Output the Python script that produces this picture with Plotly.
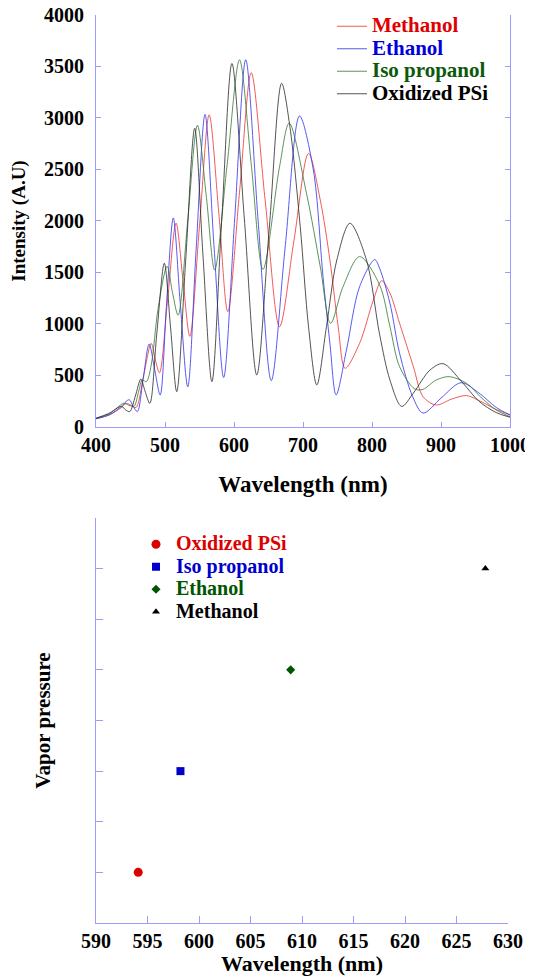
import plotly.graph_objects as go

# ---------------- Data: top chart (PL spectra) ----------------
wl_oxidized = [400, 418, 437, 443, 449, 457, 465, 471, 478, 488, 499, 508, 517, 530, 543, 555, 568, 582, 597, 615,
               633, 651, 669, 681, 696, 708, 720, 734, 749, 768, 792, 811, 826, 843, 860, 884, 903, 930, 955, 980, 1000]
int_oxidized = [85, 130, 200, 165, 150, 300, 465, 350, 230, 900, 1590, 970, 343, 1620, 2900, 1670, 440, 1985, 3530, 2020,
                505, 1920, 3337, 2916, 1945, 974, 408, 974, 1621, 1978, 1621, 900, 456, 200, 330, 553, 615, 440, 250, 140, 95]

wl_ethanol = [400, 420, 435, 448, 454, 460, 468, 477, 485, 493, 502, 512, 522, 533, 545, 558, 571, 585, 601, 617,
              635, 654, 674, 695, 715, 729, 739, 748, 763, 782, 804, 811, 826, 840, 859, 874, 900, 929, 955, 980, 1000]
int_ethanol = [80, 120, 190, 265, 200, 150, 450, 805, 560, 311, 1170, 2030, 1210, 390, 1710, 3035, 1760, 480, 2020, 3565,
               2000, 450, 1735, 3020, 2495, 1460, 812, 311, 748, 1362, 1625, 1541, 1201, 715, 294, 135, 280, 430, 330, 190, 115]

wl_methanol = [400, 420, 436, 444, 451, 458, 469, 480, 486, 492, 504, 516, 526, 536, 550, 564, 578, 591, 608, 625,
               645, 666, 687, 708, 725, 739, 751, 761, 782, 802, 814, 826, 840, 860, 874, 893, 915, 937, 960, 980, 1000]
int_methanol = [80, 120, 185, 230, 210, 190, 500, 812, 650, 527, 1250, 1980, 1430, 880, 1955, 3030, 2075, 1120, 2280, 3440,
                2210, 974, 1815, 2657, 2204, 1621, 974, 570, 812, 1233, 1420, 1300, 1007, 585, 294, 214, 270, 305, 240, 170, 120]

wl_isopropanol = [400, 420, 440, 448, 455, 462, 467, 473, 480, 490, 503, 511, 519, 533, 547, 560, 572, 590, 608, 625,
                  642, 666, 680, 705, 725, 740, 758, 782, 811, 826, 840, 862, 874, 893, 912, 937, 957, 980, 1000]
int_isopropanol = [85, 130, 230, 210, 200, 350, 456, 440, 600, 1150, 1560, 1300, 1085, 2010, 2930, 2230, 1524, 2545, 3565, 2550,
                   1530, 2527, 2950, 2270, 1557, 1007, 1362, 1654, 1380, 974, 585, 369, 366, 456, 489, 424, 294, 165, 100]

# ---------------- Data: bottom chart ----------------
vp_names = ["Oxidized PSi", "Iso propanol", "Ethanol", "Methanol"]
vp_wavelength = [594.1, 598.2, 608.9, 627.8]
vp_pressure = [1, 3, 5, 7]

AXIS_COLOR = "#9c9cff"
FONT = "Liberation Serif"

fig = go.Figure()

top_series = [
    ("Methanol", wl_methanol, int_methanol, "rgba(240,60,60,0.85)", "#e00000"),
    ("Ethanol", wl_ethanol, int_ethanol, "rgba(60,60,240,0.85)", "#0000dd"),
    ("Iso propanol", wl_isopropanol, int_isopropanol, "rgba(50,120,50,0.8)", "#0b5a0b"),
    ("Oxidized PSi", wl_oxidized, int_oxidized, "rgba(40,40,40,0.8)", "#000000"),
]
for name, x, y, lc, tc in top_series:
    fig.add_trace(go.Scatter(
        x=x, y=y, mode="lines", line=dict(color=lc, width=1, shape="spline", smoothing=0.9),
        name=f'<span style="color:{tc};font-size:21px">{name}</span>', xaxis="x", yaxis="y", legend="legend"))

marker_styles = [
    ("circle", 9, "#dd0000"),
    ("square", 8, "#0000cc"),
    ("diamond", 7, "#005500"),
    ("triangle-up", 7, "#000000"),
]
for i, (sym, sz, col) in enumerate(marker_styles):
    fig.add_trace(go.Scatter(
        x=[vp_wavelength[i]], y=[vp_pressure[i]], mode="markers",
        marker=dict(symbol=sym, size=sz, color=col),
        name=f'<span style="color:{col};font-size:20px">{vp_names[i]}</span>',
        xaxis="x2", yaxis="y2", legend="legend2"))

tickfont = dict(family=FONT, size=20, color="black", weight="bold")
titlefont = dict(family=FONT, size=23, color="black", weight="bold")

# page body has an 8px default margin, so the figure is sized 8px smaller
fig.update_layout(
    width=525, height=968,
    margin=dict(l=88, r=23, t=0, b=53),
    paper_bgcolor="white", plot_bgcolor="white",
    showlegend=True,
    xaxis=dict(domain=[0, 1], anchor="y", range=[400, 1000], dtick=100, showgrid=False, zeroline=False,
               automargin=False, ticklabeloverflow="allow",
               showline=True, linecolor=AXIS_COLOR, linewidth=1, ticks="inside", ticklen=5, tickcolor=AXIS_COLOR,
               tickfont=tickfont, title=dict(text="Wavelength (nm)", font=titlefont, standoff=20)),
    yaxis=dict(domain=[0.54208, 0.99235], anchor="x", range=[0, 4000], dtick=500, showgrid=False, zeroline=False,
               automargin=False, ticklabeloverflow="allow",
               showline=True, linecolor=AXIS_COLOR, linewidth=1, mirror="ticks", ticks="inside", ticklen=5,
               tickcolor=AXIS_COLOR, tickfont=tickfont, ticklabelstandoff=7,
               title=dict(text="Intensity (A.U)", font=dict(family=FONT, size=19, color="black", weight="bold"),
                          standoff=15)),
    xaxis2=dict(domain=[0, 0.9952], anchor="y2", range=[590, 630], dtick=5, showgrid=False, zeroline=False,
                automargin=False, ticklabeloverflow="allow",
                showline=True, linecolor=AXIS_COLOR, linewidth=1, ticks="inside", ticklen=7, tickcolor=AXIS_COLOR,
                tickfont=tickfont,
                title=dict(text="Wavelength (nm)", font=dict(family=FONT, size=22, color="black", weight="bold"),
                           standoff=12)),
    yaxis2=dict(domain=[0, 0.44262], anchor="x2", range=[0, 8], dtick=1, showgrid=False, zeroline=False,
                automargin=False,
                showline=True, linecolor=AXIS_COLOR, linewidth=1, ticks="inside", ticklen=7, tickcolor=AXIS_COLOR,
                showticklabels=False,
                title=dict(text="Vapor pressure", font=dict(family=FONT, size=21, color="black", weight="bold"),
                           standoff=38)),
    legend=dict(x=0.570, y=0.99781, xanchor="left", yanchor="top", bgcolor="rgba(0,0,0,0)",
                font=dict(family=FONT, size=15, weight="bold"), tracegroupgap=0, itemwidth=30),
    legend2=dict(x=0.0966, y=0.43169, xanchor="left", yanchor="top", bgcolor="rgba(0,0,0,0)",
                 font=dict(family=FONT, size=15, weight="bold"), tracegroupgap=0, itemwidth=30),
)

fig.write_html("out.html")
